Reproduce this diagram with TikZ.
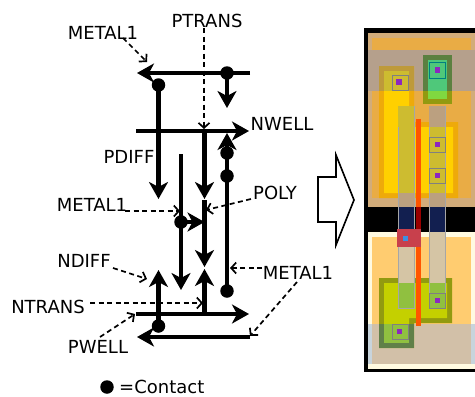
\documentclass[tikz,border=0pt]{standalone}
\usepackage{fontspec}
\setmainfont{DejaVu Sans}
\usetikzlibrary{arrows.meta}

\definecolor{celltan}{RGB}{210,172,122}
\definecolor{wellorange}{RGB}{233,172,69}
\definecolor{bandgrey}{RGB}{181,160,140}
\definecolor{pring}{RGB}{238,170,10}
\definecolor{pringtop}{RGB}{190,154,58}
\definecolor{pfill}{RGB}{255,208,0}
\definecolor{pfilltop}{RGB}{205,188,48}
\definecolor{nring}{RGB}{146,154,16}
\definecolor{nringlow}{RGB}{96,128,72}
\definecolor{nfill}{RGB}{196,208,0}
\definecolor{nfilllow}{RGB}{144,192,64}
\definecolor{topringdark}{RGB}{91,128,64}
\definecolor{topfilldark}{RGB}{79,200,122}
\definecolor{topfill}{RGB}{128,216,64}
\definecolor{lowcream}{RGB}{255,250,225}
\definecolor{loworange}{RGB}{255,204,112}
\definecolor{lowband}{RGB}{210,192,168}
\definecolor{lowedge}{RGB}{200,212,220}
\definecolor{gatenavy}{RGB}{18,31,80}
\definecolor{gatelow}{RGB}{213,197,165}
\definecolor{gatetop}{RGB}{187,160,128}
\definecolor{viapurple}{RGB}{140,40,190}
\definecolor{polyred}{RGB}{255,85,0}
\definecolor{padred}{RGB}{200,64,76}
\definecolor{padblue}{RGB}{63,143,224}

\tikzset{
  wire/.style={line width=4.5pt,-{Stealth[length=17pt,width=19pt,inset=5pt]}},
  bar/.style={line width=4.5pt},
  note/.style={line width=1.7pt,dash pattern=on 5pt off 3.5pt,-{Straight Barb[length=5pt,width=11pt]}},
  tag/.style={inner sep=0pt,font=\fontsize{18}{18}\selectfont},
  contact/.style={circle,fill=black,inner sep=0pt,minimum size=13.5pt},
  via/.style={fill=viapurple},
  viabox/.style={draw=gray,line width=.6pt},
  gateline/.style={draw=gray!70,line width=.5pt}
}

\begin{document}
\begin{tikzpicture}[x=1pt,y=-1pt]
  \useasboundingbox (0,0) rectangle (475,397);

  % layout on the right
  \fill (364,28) rectangle (475,372);
  \fill[celltan] (367.5,33) rectangle (475,207);
  \fill[wellorange] (372,37.5) rectangle (471,198);
  \fill[bandgrey] (367.5,50) rectangle (475,90.5);
  \fill[lowcream] (367.5,232) rectangle (475,369);
  \fill[loworange] (372,237) rectangle (471,324);
  \fill[lowedge] (367.5,324) rectangle (475,364);
  \fill[lowband] (372,324) rectangle (471,364);

  % p diffusion
  \fill[pring] (379,66) -- (414,66) -- (414,122) -- (458,122) -- (458,198) -- (379,198) -- cycle;
  \fill[pfill] (384,71) -- (409,71) -- (409,127) -- (453,127) -- (453,193) -- (384,193) -- cycle;
  \fill[pringtop] (379,66) rectangle (414,90.5);
  \fill[pfilltop] (384,71) rectangle (409,90.5);
  \fill[nring] (423,55) rectangle (452,104);
  \fill[topringdark] (423,55) rectangle (452,90.5);
  \fill[topfill] (428,60) rectangle (447,99);
  \fill[topfilldark] (428,60) rectangle (447,90.5);

  % n diffusion
  \fill[nring] (379,278) -- (452,278) -- (452,323) -- (414,323) -- (414,348) -- (379,348) -- cycle;
  \fill[nfill] (384,283) -- (447,283) -- (447,318) -- (409,318) -- (409,343) -- (384,343) -- cycle;
  \fill[nringlow] (379,324) rectangle (414,348);
  \fill[nfilllow] (384,324) rectangle (409,343);

  % gates and poly
  \foreach \gx in {398,429} {
    \fill[pfilltop] (\gx,127) rectangle ++(16,66);
    \fill[gatetop] (\gx,193) rectangle ++(16,14);
    \fill[gatenavy] (\gx,207) rectangle ++(16,25);
    \fill[gatelow] (\gx,232) rectangle ++(16,51);
    \fill[nfilllow] (\gx,283) rectangle ++(16,25);
    \draw[gateline] (\gx,106) rectangle ++(16,202);
  }
  \fill[pfilltop] (398.3,106.3) rectangle (413.7,127);
  \fill[gatetop] (429.3,106.3) rectangle (444.7,127);
  \fill[polyred] (416,119) rectangle (421,207);
  \fill[red!60!black] (416,207) rectangle (421,232);
  \fill[polyred] (416,232) rectangle (421,326);
  \fill[padred] (397,229) rectangle (421,247);
  \fill[padblue] (403,236) rectangle (408,241);

  % contacts
  \draw[viabox] (392,75) rectangle (408,90);
  \fill[via] (396,79) rectangle (402,85);
  \draw[viabox,draw=teal] (429,62) rectangle (445,78);
  \fill[via] (435,67) rectangle (440,73);
  \draw[viabox] (429,137) rectangle (445,152);
  \fill[via] (435,142) rectangle (440,147);
  \draw[viabox] (429,168) rectangle (445,183);
  \fill[via] (435,173) rectangle (440,178);
  \draw[viabox] (429,293) rectangle (445,308);
  \fill[via] (435,298) rectangle (440,303);
  \draw[viabox] (392,324) rectangle (408,339);
  \fill[via] (397,329) rectangle (402,334);

  % block arrow
  \draw[line width=1.6pt,fill=white] (318,177) -- (336,177) -- (336,155) -- (354,200) -- (336,245) -- (336,222) -- (318,222) -- cycle;

  % labels
  \node[tag] (m1a) at (103,33) {METAL1};
  \node[tag] (ptrans) at (207,21) {PTRANS};
  \node[tag] (nwell) at (282,124) {NWELL};
  \node[tag] (pdiff) at (129,157) {PDIFF};
  \node[tag] (m1b) at (92,205) {METAL1};
  \node[tag] (poly) at (275,193) {POLY};
  \node[tag] (ndiff) at (84,261) {NDIFF};
  \node[tag] (m1c) at (298,273) {METAL1};
  \node[tag] (ntrans) at (48,307) {NTRANS};
  \node[tag] (pwell) at (98,347) {PWELL};
  \node[tag,anchor=west] (ctext) at (119,387) {=Contact};

  % contacts of the stick diagram
  \node[contact] (c1) at (227,73) {};
  \node[contact] (c2) at (158.5,85) {};
  \node[contact] (c3) at (227,153) {};
  \node[contact] (c4) at (227,176) {};
  \node[contact] (c5) at (227,291) {};
  \node[contact] (c6) at (181,222) {};
  \node[contact] (c7) at (158.5,326) {};
  \node[contact] (ckey) at (107,387) {};

  % free ends
  \coordinate (a1) at (250,73);
  \coordinate (a2) at (137,73);
  \coordinate (a3) at (227,108);
  \coordinate (a4) at (158.5,199);
  \coordinate (b1) at (136,131);
  \coordinate (b2) at (249,131);
  \coordinate (b3) at (204.5,131);
  \coordinate (b4) at (204.5,199);
  \coordinate (b5) at (227,133);
  \coordinate (d1) at (181,154);
  \coordinate (d2) at (181,290);
  \coordinate (e1) at (204.5,200);
  \coordinate (e2) at (204.5,267);
  \coordinate (e3) at (204.5,222);
  \coordinate (f1) at (204.5,314);
  \coordinate (f2) at (204.5,269);
  \coordinate (g1) at (136,314);
  \coordinate (g2) at (249,314);
  \coordinate (g3) at (158.5,270);
  \coordinate (h1) at (250,337);
  \coordinate (h2) at (137,337);

  \path[wire]
  (a1) edge (a2)
  (c1.center) edge (a3)
  (c2.center) edge (a4)
  (b1) edge (b2)
  (b3) edge (b4)
  (c3.center) edge (b5)
  (d1) edge (d2)
  (e1) edge (e2)
  (c6.center) edge (e3)
  (f1) edge (f2)
  (g1) edge (g2)
  (c7.center) edge (g3)
  (h1) edge (h2)
  ;
  \draw[bar] (c3.center) -- (c5.center);

  % dashed pointers
  \coordinate (n1) at (123,38);
  \coordinate (n2) at (147,62);
  \coordinate (n3) at (204,28);
  \coordinate (n4) at (204,129);
  \coordinate (n5) at (125,211);
  \coordinate (n6) at (180,211);
  \coordinate (n7) at (251,199);
  \coordinate (n8) at (206,210);
  \coordinate (n9) at (113,268);
  \coordinate (n10) at (147,279);
  \coordinate (n11) at (262,268);
  \coordinate (n12) at (230,268);
  \coordinate (n13) at (90,303);
  \coordinate (n14) at (203,303);
  \coordinate (n15) at (100,337);
  \coordinate (n16) at (135,314);
  \coordinate (n17) at (297,282);
  \coordinate (n18) at (250,336);

  \path[note]
  (n1) edge (n2)
  (n3) edge (n4)
  (n5) edge (n6)
  (n7) edge (n8)
  (n9) edge (n10)
  (n11) edge (n12)
  (n13) edge (n14)
  (n15) edge (n16)
  (n17) edge (n18)
  ;
\end{tikzpicture}
\end{document}
